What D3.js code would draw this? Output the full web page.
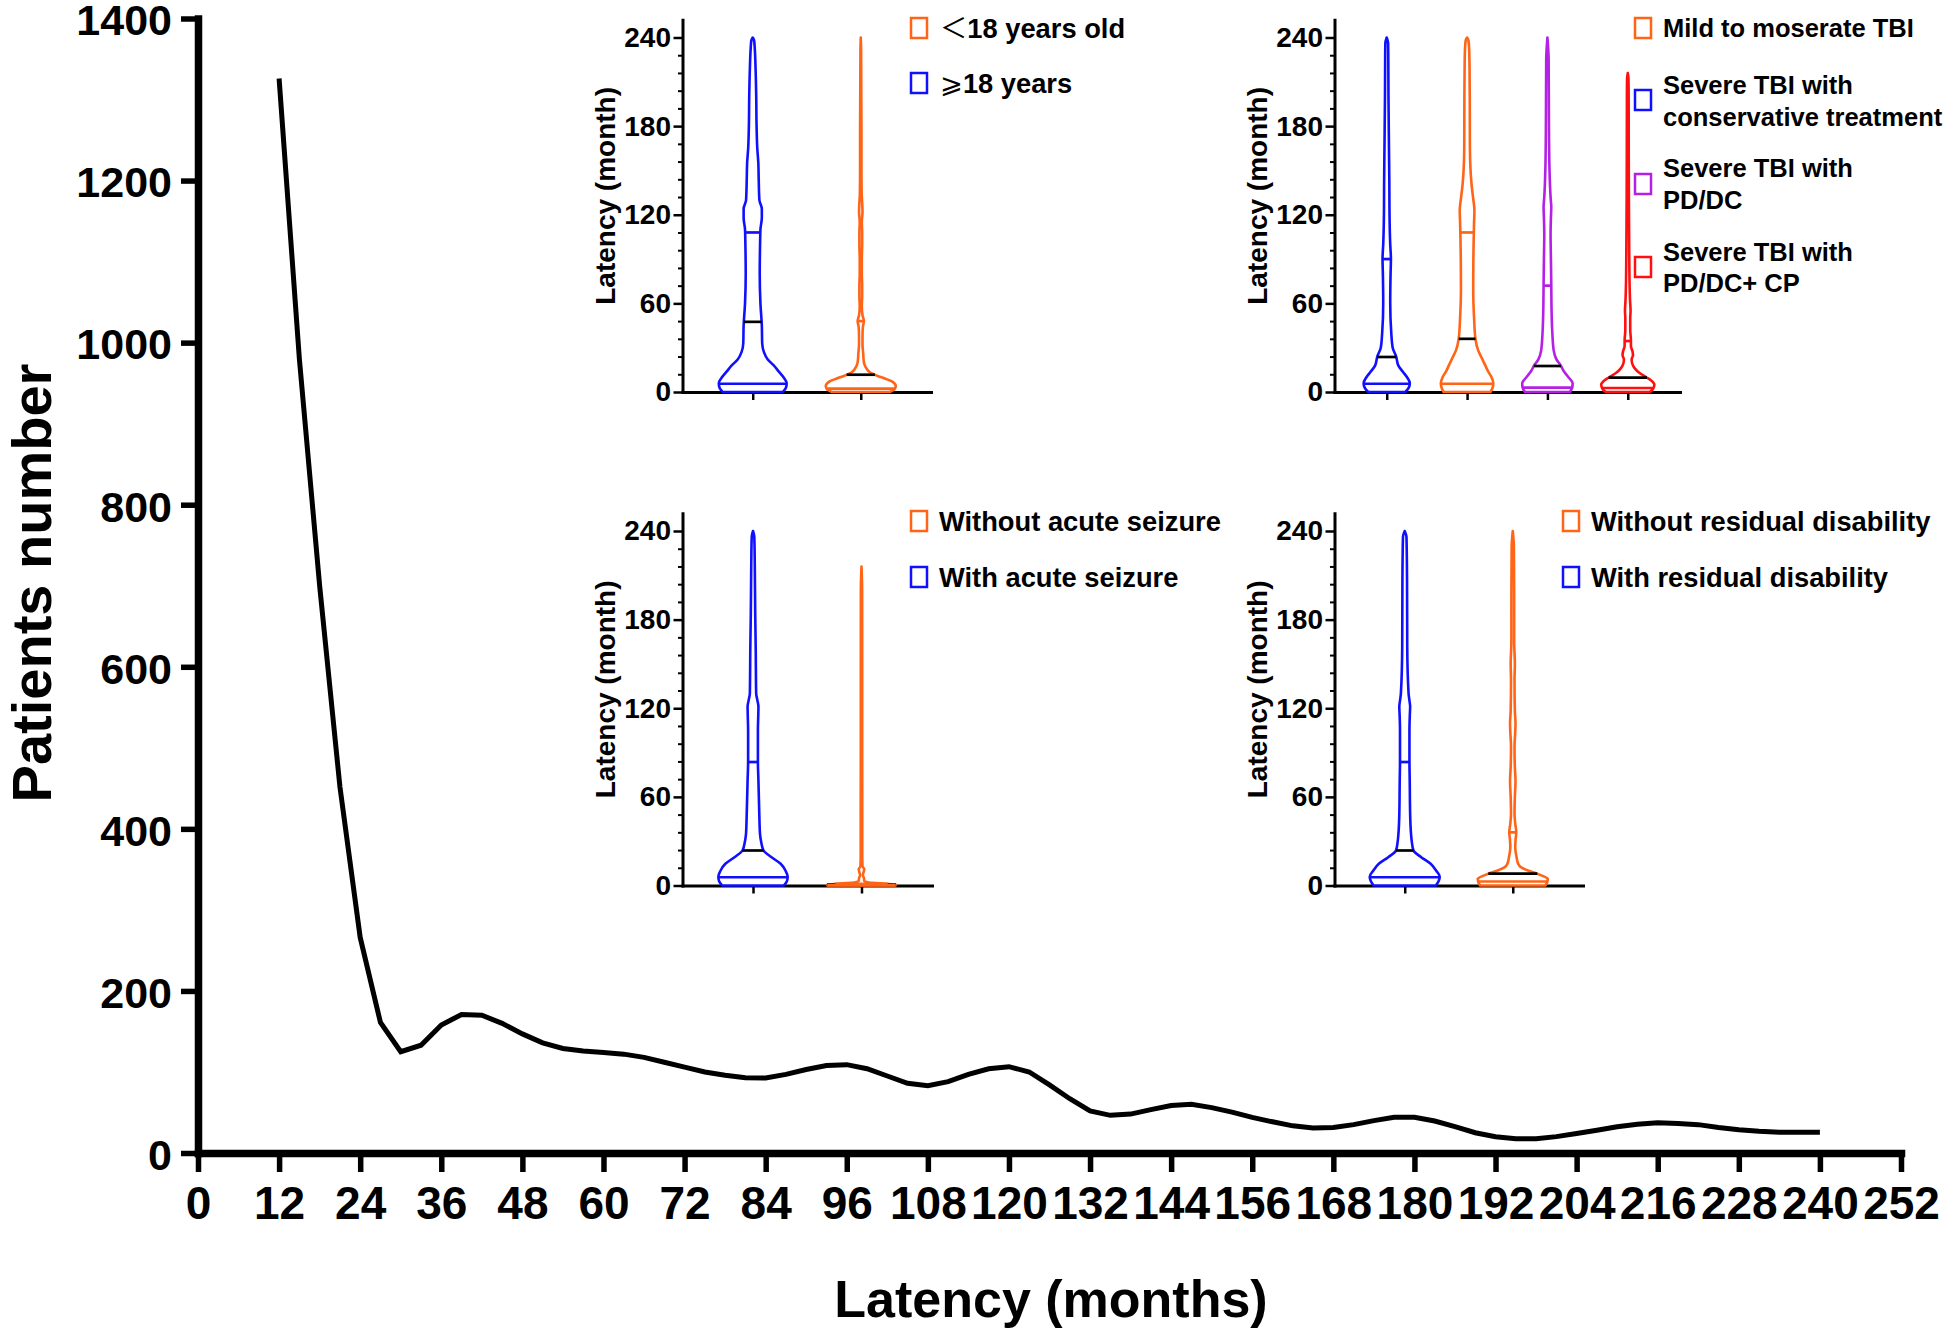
<!DOCTYPE html>
<html><head><meta charset="utf-8">
<script src="https://cdn.jsdelivr.net/npm/d3@7"></script>
<style>
body{margin:0;background:#fff}
svg{display:block}
text{font-family:"Liberation Sans",Arial,sans-serif;font-weight:bold;fill:#000}
</style>
</head><body>
<svg id="chart" width="1946" height="1331"></svg>
<script>
// ---------------- DATA ----------------
const months = [12,15,18,21,24,27,30,33,36,39,42,45,48,51,54,57,60,63,66,69,72,75,78,81,84,87,90,93,96,99,102,105,108,111,114,117,120,123,126,129,132,135,138,141,144,147,150,153,156,159,162,165,168,171,174,177,180,183,186,189,192,195,198,201,204,207,210,213,216,219,222,225,228,231,234,237,240];
const patients = [1326,980,700,452,266,161,125,133,158,171,170,160,147,136,129,126,124,122,118,112,106,100,96,93,92.5,97,103,108,109,104,95,86,83,88,97,104,106.5,100,84,67,52,46.5,48,53.5,58.5,60,56,50.5,44,38.5,33.5,31,31.5,35,40,44,44,39.5,32.5,25,20,17.6,17.7,20.2,24,28,32.4,35.6,37.2,36.3,35,31.5,28.6,26.7,25.7,25.5,25.5];
const xTicks = [0,12,24,36,48,60,72,84,96,108,120,132,144,156,168,180,192,204,216,228,240,252];
const yTicks = [0,200,400,600,800,1000,1200,1400];
const xTitle = "Latency (months)";
const yTitle = "Patients number";

const insetTitle = "Latency (month)";
const insetMajorTicks = [0,60,120,180,240];
const insetMinorTicks = [12,24,36,48,72,84,96,108,132,144,156,168,192,204,216,228];

// violin profiles: [latency (month), relative density 0..1]
const ageAdult = [[0,0.86],[3,0.95],[6,0.97],[10,0.88],[14,0.74],[18,0.6],[22,0.43],[27,0.32],[33,0.27],[45,0.26],[60,0.22],[80,0.2],[100,0.21],[110,0.22],[118,0.26],[124,0.26],[130,0.19],[145,0.17],[155,0.16],[165,0.13],[180,0.11],[200,0.1],[220,0.08],[232,0.06],[238,0.04],[240,0]];
const ageChild = [[0,0.83],[2,0.97],[4,1.0],[7,0.9],[9,0.7],[11,0.47],[13,0.28],[16,0.16],[19,0.1],[22,0.08],[26,0.07],[32,0.05],[38,0.05],[44,0.06],[48,0.09],[52,0.05],[58,0.03],[65,0.04],[72,0.04],[80,0.03],[90,0.03],[100,0.04],[108,0.04],[115,0.03],[122,0.05],[128,0.04],[135,0.025],[150,0.02],[175,0.02],[200,0.015],[230,0.01],[240,0]];
const tbiConservative = [[0,0.53],[3,0.63],[6,0.66],[10,0.58],[14,0.45],[18,0.33],[24,0.27],[30,0.17],[40,0.13],[60,0.1],[80,0.11],[90,0.12],[100,0.1],[120,0.08],[140,0.075],[175,0.06],[200,0.05],[225,0.045],[236,0.04],[240,0]];
const tbiMild = [[0,0.67],[3,0.73],[6,0.75],[10,0.7],[14,0.6],[18,0.52],[24,0.4],[28,0.32],[36,0.24],[50,0.2],[70,0.175],[90,0.18],[105,0.19],[115,0.2],[123,0.21],[130,0.18],[140,0.13],[155,0.09],[170,0.08],[200,0.077],[220,0.07],[232,0.06],[238,0.04],[240,0]];
const tbiPDDC = [[0,0.64],[3,0.71],[6,0.72],[10,0.6],[14,0.47],[18,0.38],[22,0.26],[28,0.18],[40,0.14],[60,0.115],[72,0.11],[90,0.1],[107,0.09],[118,0.1],[125,0.11],[132,0.09],[150,0.06],[175,0.045],[200,0.04],[225,0.035],[240,0]];
const tbiPDDCCP = [[0,0.63],[2,0.72],[5,0.76],[8,0.66],[10,0.53],[13,0.33],[16,0.2],[19,0.13],[22,0.11],[25,0.15],[28,0.13],[31,0.09],[35,0.09],[42,0.07],[50,0.07],[55,0.08],[62,0.065],[75,0.05],[85,0.045],[100,0.04],[130,0.032],[160,0.028],[200,0.025],[212,0.02],[216,0]];
const seizureWith = [[0,0.88],[3,0.97],[6,0.99],[10,0.93],[14.7,0.79],[19,0.54],[23.7,0.3],[30,0.23],[35,0.2],[48,0.18],[71,0.155],[84,0.14],[105,0.14],[115,0.15],[121,0.155],[126,0.12],[130,0.09],[161,0.077],[184,0.063],[218,0.05],[236,0.037],[240,0]];
const seizureWithout = [[0,0.97],[0.6,0.99],[1.4,0.6],[2,0.2],[3,0.08],[5,0.07],[7,0.04],[9,0.06],[11,0.08],[13,0.03],[20,0.022],[50,0.022],[100,0.02],[150,0.02],[200,0.018],[216,0]];
const disabilityWith = [[0,0.89],[3,0.97],[6,1.0],[10,0.9],[14.7,0.74],[19,0.48],[23.7,0.25],[30,0.2],[35,0.18],[48,0.155],[71,0.143],[84,0.135],[105,0.135],[115,0.145],[121,0.155],[126,0.13],[130,0.11],[161,0.072],[207,0.066],[236,0.05],[240,0]];
const disabilityWithout = [[0,0.93],[2,0.98],[4.5,1.0],[6.5,0.85],[8,0.7],[10,0.45],[12.4,0.23],[15,0.15],[19,0.11],[26,0.07],[31,0.08],[36,0.1],[42,0.07],[48.6,0.05],[60,0.06],[71,0.078],[80,0.06],[94,0.05],[104,0.07],[110,0.078],[118,0.06],[139,0.05],[150,0.06],[165,0.04],[184,0.04],[229,0.032],[240,0]];

// quartile / median lines: [lower quartile, median, upper quartile]
const statsAgeAdult = [5.6,47.5,108];
const statsAgeChild = [2.3,11.7,48];
const statsTbiConservative = [5.6,23.7,90];
const statsTbiMild = [5.6,36,108];
const statsTbiPDDC = [3,17.6,72];
const statsTbiPDDCCP = [2.7,9.7,34.5];
const statsSeizureWith = [5.6,23.7,83.6];
const statsSeizureWithout = [0.3,0.6,1.1];
const statsDisabilityWith = [5.6,23.7,83.6];
const statsDisabilityWithout = [2.7,8,36];

const legendAge = [["＜","18 years old"],["⩾","18 years"]];
const legendTbi = [["Mild to moserate TBI"],["Severe TBI with","conservative treatment"],["Severe TBI with","PD/DC"],["Severe TBI with","PD/DC+ CP"]];
const legendSeizure = [["Without acute seizure"],["With acute seizure"]];
const legendDisability = [["Without residual disability"],["With residual disability"]];

// ---------------- STYLE ----------------
const BLUE = "#1010ff", ORANGE = "#ff6417", PURPLE = "#b520e6", RED = "#ff1010";
const FONT = "Liberation Sans, Arial, sans-serif";

const svg = d3.select("#chart");

// ---------------- MAIN CHART ----------------
const x = d3.scaleLinear().domain([0,252]).range([198,1901]);
const y = d3.scaleLinear().domain([0,1400]).range([1153,18.5]);

const gx = svg.append("g").attr("transform","translate(0,1153)")
  .call(d3.axisBottom(x).tickValues(xTicks).tickSize(19).tickSizeOuter(0).tickPadding(14).tickFormat(d3.format("d")));
gx.select(".domain").attr("stroke","#000").attr("stroke-width",7.5).attr("stroke-linecap","square");
gx.selectAll(".tick line").attr("stroke","#000").attr("stroke-width",5.5);
gx.selectAll(".tick text").attr("font-size",46).attr("font-family",FONT).attr("font-weight","bold").attr("fill","#000");

const gy = svg.append("g").attr("transform","translate(198,0)")
  .call(d3.axisLeft(y).tickValues(yTicks).tickSize(17).tickSizeOuter(0).tickPadding(9).tickFormat(d3.format("d")));
gy.select(".domain").attr("stroke","#000").attr("stroke-width",7.5).attr("stroke-linecap","square");
gy.selectAll(".tick line").attr("stroke","#000").attr("stroke-width",5.5);
gy.selectAll(".tick text").attr("font-size",43).attr("font-family",FONT).attr("font-weight","bold").attr("fill","#000").attr("dy","0.38em");

svg.append("path")
  .datum(months.map((m,i)=>[m,patients[i]]))
  .attr("fill","none").attr("stroke","#000").attr("stroke-width",5)
  .attr("stroke-linejoin","miter")
  .attr("d", d3.line().x(d=>x(d[0])).y(d=>y(d[1])));

svg.append("text").attr("x",1051).attr("y",1317).attr("text-anchor","middle")
  .attr("font-size",52).text(xTitle);
svg.append("text").attr("transform","translate(51,583) rotate(-90)").attr("text-anchor","middle")
  .attr("font-size",56).text(yTitle);

// ---------------- INSETS ----------------
const wScale = d3.scaleLinear().domain([0,1]).range([0,35]);

function interp(profile, v){
  for(let i=1;i<profile.length;i++){
    if(v<=profile[i][0]){
      const a=profile[i-1], b=profile[i];
      const t=(v-a[0])/(b[0]-a[0]);
      return a[1]+t*(b[1]-a[1]);
    }
  }
  return 0;
}

function drawInset(cfg){
  const g = svg.append("g");
  const yi = d3.scaleLinear().domain([0,252]).range([cfg.y0, cfg.y0 - 252*1.4771]);
  const xi = d3.scalePoint().domain(cfg.violins.map((d,i)=>i)).range([cfg.axisX, cfg.endX]).padding(0.65);

  // minor ticks
  const gm = g.append("g").attr("transform",`translate(${cfg.axisX},0)`)
    .call(d3.axisLeft(yi).tickValues(insetMinorTicks).tickSize(4.5).tickSizeOuter(0).tickFormat(""));
  gm.select(".domain").remove();
  gm.selectAll(".tick line").attr("stroke","#000").attr("stroke-width",2);
  // major ticks
  const gY = g.append("g").attr("transform",`translate(${cfg.axisX},0)`)
    .call(d3.axisLeft(yi).tickValues(insetMajorTicks).tickSize(9).tickSizeOuter(0).tickPadding(2.5));
  gY.select(".domain").attr("stroke","#000").attr("stroke-width",3).attr("stroke-linecap","square");
  gY.selectAll(".tick line").attr("stroke","#000").attr("stroke-width",2.5);
  gY.selectAll(".tick text").attr("font-size",28).attr("font-family",FONT).attr("font-weight","bold").attr("fill","#000");
  // x axis
  const gX = g.append("g").attr("transform",`translate(0,${yi(0)})`)
    .call(d3.axisBottom(xi).tickSize(8).tickSizeOuter(0).tickFormat(""));
  gX.select(".domain").attr("stroke","#000").attr("stroke-width",3).attr("stroke-linecap","square");
  gX.selectAll(".tick line").attr("stroke","#000").attr("stroke-width",2.5);

  // title
  g.append("text").attr("transform",`translate(${cfg.axisX-68},${yi(0)-(yi(0)-yi(252))/2-10}) rotate(-90)`)
    .attr("text-anchor","middle").attr("font-size",28).text(insetTitle);

  // violins
  cfg.violins.forEach((v,i)=>{
    const cx = xi(i);
    const area = d3.area().curve(d3.curveMonotoneY)
      .y(d=>yi(d[0])).x0(d=>cx - wScale(d[1])).x1(d=>cx + wScale(d[1]));
    g.append("path").datum(v.profile).attr("d",area)
      .attr("fill","#fff").attr("stroke",v.color).attr("stroke-width",2.6).attr("stroke-linejoin","round");
    const lines = [{val:v.stats[1],c:"#000"},{val:v.stats[0],c:v.color},{val:v.stats[2],c:v.color}];
    lines.forEach(l=>{
      const hw = wScale(interp(v.profile,l.val));
      g.append("line").attr("x1",cx-hw).attr("x2",cx+hw)
        .attr("y1",yi(l.val)).attr("y2",yi(l.val))
        .attr("stroke",l.c).attr("stroke-width",2.7);
    });
  });

  // legend
  const fs = cfg.legendFont;
  cfg.legend.forEach((row,i)=>{
    const L = cfg.legendRows[i];
    g.append("rect").attr("x",cfg.legendX).attr("y",L.sq-10).attr("width",16).attr("height",20)
      .attr("fill","none").attr("stroke",cfg.legendColors[i]).attr("stroke-width",2.5);
    if(cfg.symbolLegend){
      const t = g.append("text").attr("x",cfg.legendX+29).attr("y",L.lines[0]+fs*0.35).attr("font-size",fs);
      t.append("tspan").attr("font-family",i===0?"'Noto Sans CJK SC', sans-serif":"'DejaVu Sans', 'Noto Sans CJK SC', sans-serif")
        .attr("font-weight","normal").text(row[0]);
      t.append("tspan").text(row[1]);
    } else {
      row.forEach((line,j)=>{
        g.append("text").attr("x",cfg.legendX+28).attr("y",L.lines[j]+fs*0.35).attr("font-size",fs).text(line);
      });
    }
  });
}

drawInset({
  axisX:682.5, endX:931, y0:392,
  violins:[{profile:ageAdult,stats:statsAgeAdult,color:BLUE},{profile:ageChild,stats:statsAgeChild,color:ORANGE}],
  legend:legendAge, legendColors:[ORANGE,BLUE], symbolLegend:true, legendFont:27.3,
  legendX:911, legendRows:[{sq:28,lines:[28]},{sq:83,lines:[83]}]
});
drawInset({
  axisX:1334.5, endX:1680, y0:392,
  violins:[{profile:tbiConservative,stats:statsTbiConservative,color:BLUE},{profile:tbiMild,stats:statsTbiMild,color:ORANGE},{profile:tbiPDDC,stats:statsTbiPDDC,color:PURPLE},{profile:tbiPDDCCP,stats:statsTbiPDDCCP,color:RED}],
  legend:legendTbi, legendColors:[ORANGE,BLUE,PURPLE,RED], symbolLegend:false, legendFont:25.5,
  legendX:1635, legendRows:[{sq:28,lines:[28]},{sq:100,lines:[85,117]},{sq:184,lines:[168,200]},{sq:267,lines:[252,283]}]
});
drawInset({
  axisX:682.5, endX:932, y0:885.5,
  violins:[{profile:seizureWith,stats:statsSeizureWith,color:BLUE},{profile:seizureWithout,stats:statsSeizureWithout,color:ORANGE}],
  legend:legendSeizure, legendColors:[ORANGE,BLUE], symbolLegend:false, legendFont:27.3,
  legendX:911, legendRows:[{sq:521,lines:[521]},{sq:577,lines:[577]}]
});
drawInset({
  axisX:1334.5, endX:1583, y0:885.5,
  violins:[{profile:disabilityWith,stats:statsDisabilityWith,color:BLUE},{profile:disabilityWithout,stats:statsDisabilityWithout,color:ORANGE}],
  legend:legendDisability, legendColors:[ORANGE,BLUE], symbolLegend:false, legendFont:27.3,
  legendX:1563, legendRows:[{sq:521,lines:[521]},{sq:577,lines:[577]}]
});
</script>
</body></html>
